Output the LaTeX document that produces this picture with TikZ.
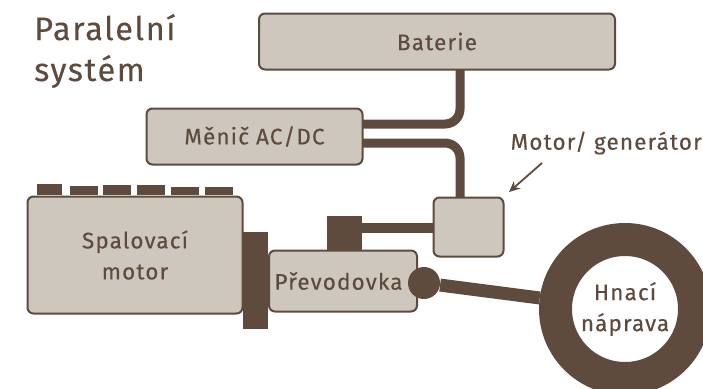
\documentclass[tikz,border=0pt]{standalone}
\usepackage{fontspec}
\setmainfont[LetterSpace=5, FakeBold=0.25]{Fira Sans}
\usetikzlibrary{arrows.meta, calc}
\definecolor{dark}{HTML}{5F4A3E}
\definecolor{light}{HTML}{CEC7BD}

\tikzset{
    unit/.style={draw=dark, line width=2pt, fill=light, rounded corners=6pt, text=dark,
        inner sep=0pt, align=center, font=\fontsize{22.5}{31}\selectfont},
    block/.style={fill=dark},
    shaft/.style={draw=dark, line width=9pt, rounded corners=15pt}
}

\begin{document}
\begin{tikzpicture}[x=1pt, y=-1pt]

    \useasboundingbox (0,0) rectangle (703,388);
    \clip (0,0) rectangle (703,388);

    % Title
    \node[anchor=west, align=left, text=dark, inner sep=0pt,
        font=\fontsize{32.5}{41}\selectfont] (title) at (34,51) {Paralelní\\systém};

    % Cylinders on top of the engine
    \foreach \xa/\xb/\ya in {37/62/184, 70/98/186, 103/131/185, 137/165/185, 171/199/187, 205/233/187}
        \fill[block] (\xa,\ya) rectangle (\xb,195);

    % Clutch and the block above the gearbox
    \fill[block] (243,232) rectangle (268,329);
    \fill[block] (327,216) rectangle (362,251);
    \coordinate (blockout) at (362,228);

    % Units
    \node[unit, minimum width=356pt, minimum height=56pt] (baterie) at (437,41.5) {Baterie};
    \node[unit, minimum width=216pt, minimum height=56pt] (menic) at (254.5,136.5) {Měnič AC/DC};
    \node[unit, minimum width=70pt, minimum height=59pt] (mg) at (468.5,227) {};
    \node[unit, minimum width=215pt, minimum height=117pt] (engine) at (135,255) {Spalovací\\motor};
    \node[unit, minimum width=148pt, minimum height=61pt, anchor=west] (gearbox) at (268,281) {Převodovka\hspace*{9pt}};

    % Connectors
    \coordinate (batout) at (460,70);
    \coordinate (menicup) at (363,124);
    \coordinate (menicdown) at (363,143);
    \coordinate (mgin) at (460,197);
    \draw[shaft] (batout) |- (menicup);
    \draw[shaft] (menicdown) -| (mgin);
    \draw[draw=dark, line width=10pt] (blockout) -- (blockout -| mg.west);

    % Drive axle
    \node[circle, fill=dark, minimum size=32pt, inner sep=0pt] (ball) at (424,283) {};
    \node[circle, draw=dark, line width=33pt, minimum size=139pt, inner sep=0pt, text=dark, align=center,
        font=\fontsize{22.5}{31}\selectfont] (wheel) at (625,309) {Hnací\\náprava};
    \draw[draw=dark, line width=13pt] (ball) -- (wheel);

    % Label with arrow
    \node[anchor=east, text=dark, inner sep=0pt, font=\fontsize{22.5}{31}\selectfont] (mglabel) at (702,143) {Motor/ generátor};
    \coordinate (arrowstart) at (542,163);
    \coordinate (arrowend) at (509,192);
    \draw[-{Stealth[length=11pt, width=10pt]}, draw=dark, line width=1.8pt] (arrowstart) -- (arrowend);

\end{tikzpicture}
\end{document}
